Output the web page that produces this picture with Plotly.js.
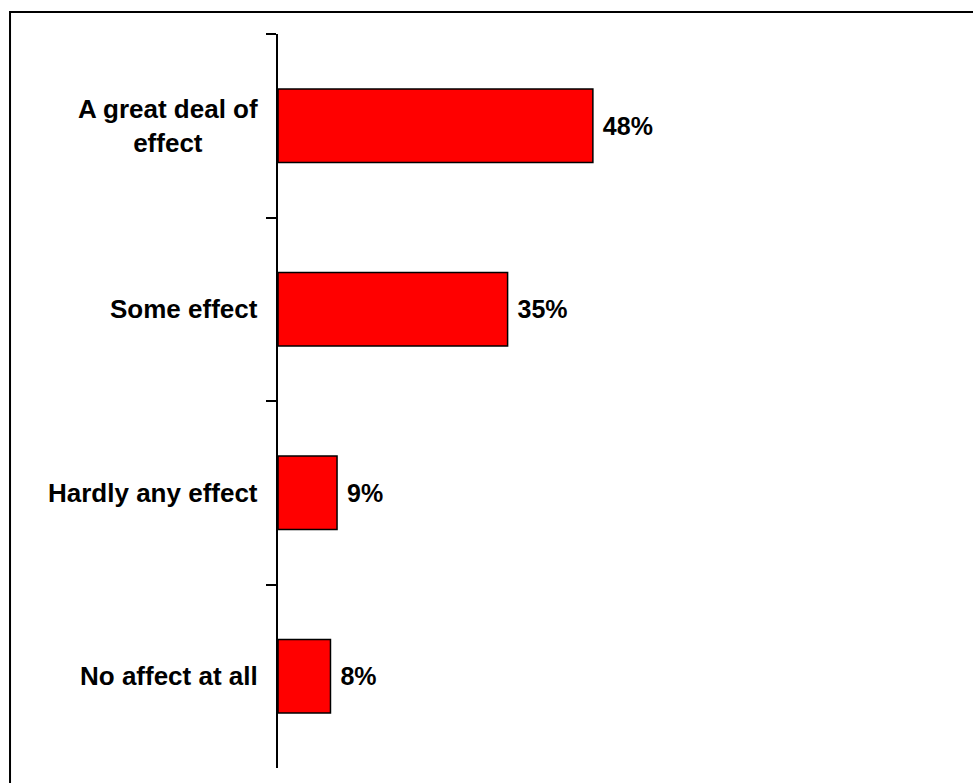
<!DOCTYPE html>
<html>
<head>
<meta charset="utf-8">
<script src="https://cdn.plot.ly/plotly-3.0.1.min.js"></script>
<style>html,body{margin:0;padding:0;background:#fff;}#chart{width:973px;height:783px;}</style>
</head>
<body>
<div id="chart"></div>
<script>
const categories = ["A great deal of effect", "Some effect", "Hardly any effect", "No affect at all"];
const categoryLabels = ["A great deal of<br>effect", "Some effect", "Hardly any effect", "No affect at all"];
const values = [48, 35, 9, 8];
const valueLabels = ["48%", "35%", "9%", "8%"];

const labelFont = {family: "Arial, 'Liberation Sans', sans-serif", size: 26, color: "#000", weight: "bold"};
const valueFont = {family: "Arial, 'Liberation Sans', sans-serif", size: 25, color: "#000", weight: "bold"};

const trace = {
  type: "bar",
  orientation: "h",
  y: categories,
  x: values,
  text: valueLabels.map(t => "\u00a0" + t),
  textposition: "outside",
  cliponaxis: false,
  textfont: valueFont,
  marker: {color: "#FF0000", line: {color: "#000", width: 1.5}},
  hoverinfo: "skip"
};

const annotations = categories.map((c, i) => ({
  xref: "paper", yref: "y",
  x: -0.0274, y: c,
  xanchor: "right", yanchor: "middle",
  align: "center",
  text: categoryLabels[i],
  showarrow: false,
  font: labelFont
}));

const layout = {
  width: 973, height: 783,
  margin: {l: 278, r: 39, t: 34, b: 15, pad: 0},
  paper_bgcolor: "#fff", plot_bgcolor: "#fff",
  showlegend: false,
  bargap: 0.6,
  xaxis: {range: [0, 100], visible: false, fixedrange: true},
  yaxis: {
    type: "category",
    autorange: "reversed",
    showticklabels: false,
    showline: true, linecolor: "#000", linewidth: 2,
    ticks: "outside", ticklen: 10, tickwidth: 2, tickcolor: "#000",
    tickson: "boundaries",
    showgrid: false, zeroline: false
  },
  annotations: annotations,
  shapes: [{
    type: "rect", xref: "paper", yref: "paper",
    x0: -0.4085, x1: 1.2, y0: -0.2, y1: 1.03,
    line: {color: "#000", width: 2}, fillcolor: "rgba(0,0,0,0)"
  }]
};

Plotly.newPlot("chart", [trace], layout, {staticPlot: true, displayModeBar: false});
</script>
</body>
</html>
